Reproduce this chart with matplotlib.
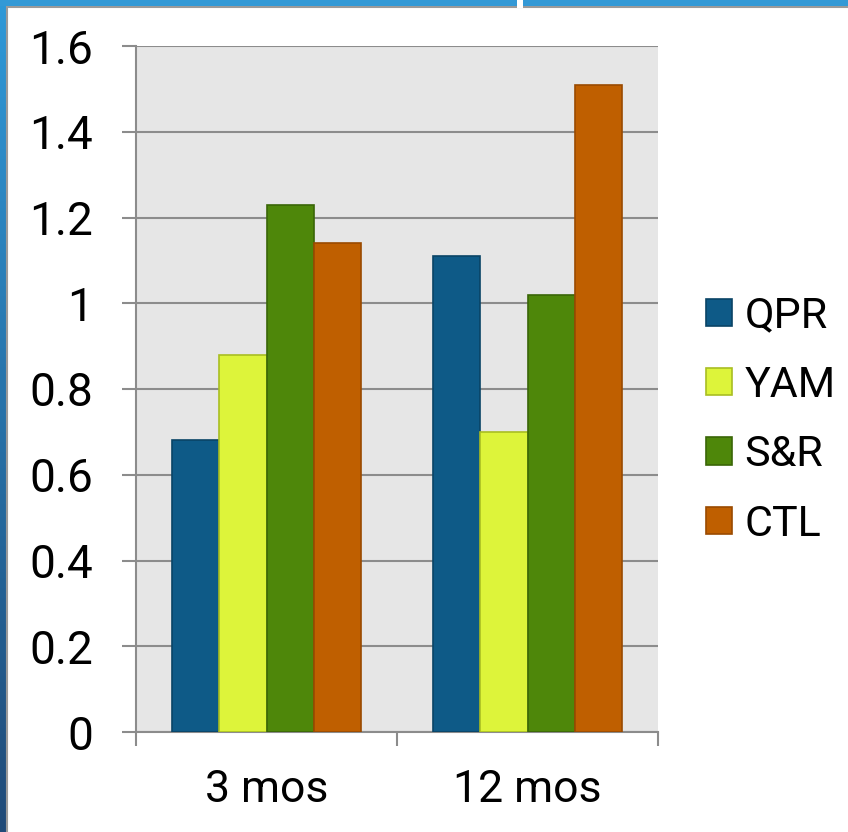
import numpy as np
import matplotlib
matplotlib.use("Agg")
import matplotlib.pyplot as plt
from matplotlib.patches import Rectangle

# Данные
categories = ["3 mos", "12 mos"]
series = ["QPR", "YAM", "S&R", "CTL"]
values = {
    "QPR": [0.68, 1.11],
    "YAM": [0.88, 0.70],
    "S&R": [1.23, 1.02],
    "CTL": [1.14, 1.51],
}
colors = ["#0E5A87", "#DDF43A", "#4E870A", "#BF5F00"]
edges = ["#0A4466", "#A9BE22", "#3A6607", "#9A4A00"]
yticks = [0, 0.2, 0.4, 0.6, 0.8, 1, 1.2, 1.4, 1.6]
ytick_labels = ["0", "0.2", "0.4", "0.6", "0.8", "1", "1.2", "1.4", "1.6"]

plt.rcParams['font.family'] = ['Roboto', 'DejaVu Sans']

W, H = 848, 832
fig = plt.figure(figsize=(W / 100, H / 100), dpi=100)

# Синяя рамка слайда
bg = fig.add_axes([0, 0, 1, 1], zorder=-10)
grad = np.linspace(0, 1, 256).reshape(-1, 1)
bg.imshow(grad, aspect='auto', cmap=matplotlib.colors.LinearSegmentedColormap.from_list(
    "b", ["#2F99D8", "#1F4A78"]), extent=[0, W, H, 0])
bg.add_patch(Rectangle((7, 7), W, H, facecolor="white", edgecolor="#9A9A9A", lw=1.5))
bg.add_patch(Rectangle((0, 0), W, 6, facecolor="#3399D6", edgecolor="none"))
bg.add_patch(Rectangle((517, 0), 6, 8, facecolor="white", edgecolor="none"))
bg.set_xlim(0, W)
bg.set_ylim(H, 0)
bg.axis('off')

ax = fig.add_axes([136 / W, (H - 732) / H, (658 - 136) / W, (732 - 46) / H])
ax.set_facecolor("#E6E6E6")

x = np.arange(len(categories))
w = 0.181
for i, name in enumerate(series):
    ax.bar(x + (i - 1.5) * w, values[name], width=w, color=colors[i],
           edgecolor=edges[i], linewidth=1.2, zorder=3, label=name)

ax.set_xlim(-0.5, 1.5)
ax.set_ylim(0, 1.6)
ax.set_yticks(yticks)
ax.set_yticklabels(ytick_labels)
ax.yaxis.grid(True, color="#8C8C8C", lw=1.5, zorder=1)
ax.set_xticks(x)
ax.set_xticklabels(categories)
ax.set_xticks([-0.5, 0.5, 1.5], minor=True)
ax.tick_params(axis='x', which='major', length=0, pad=27, labelsize=32)
ax.tick_params(axis='x', which='minor', length=10, width=1.5, color="#8C8C8C")
ax.tick_params(axis='y', length=10, width=1.5, color="#8C8C8C", pad=21, labelsize=33)
for s in ["top", "right"]:
    ax.spines[s].set_visible(False)
ax.spines["left"].set_color("#8C8C8C")
ax.spines["bottom"].set_color("#8C8C8C")
ax.spines["left"].set_linewidth(1.5)
ax.spines["bottom"].set_linewidth(1.5)

fig.legend(loc='center left', bbox_to_anchor=(706 / W, 1 - 420 / H), frameon=False,
           fontsize=31, handlelength=0.6, handleheight=0.6, handletextpad=0.3,
           labelspacing=0.66, borderaxespad=0, borderpad=0)

fig.savefig("out.png", dpi=100)
